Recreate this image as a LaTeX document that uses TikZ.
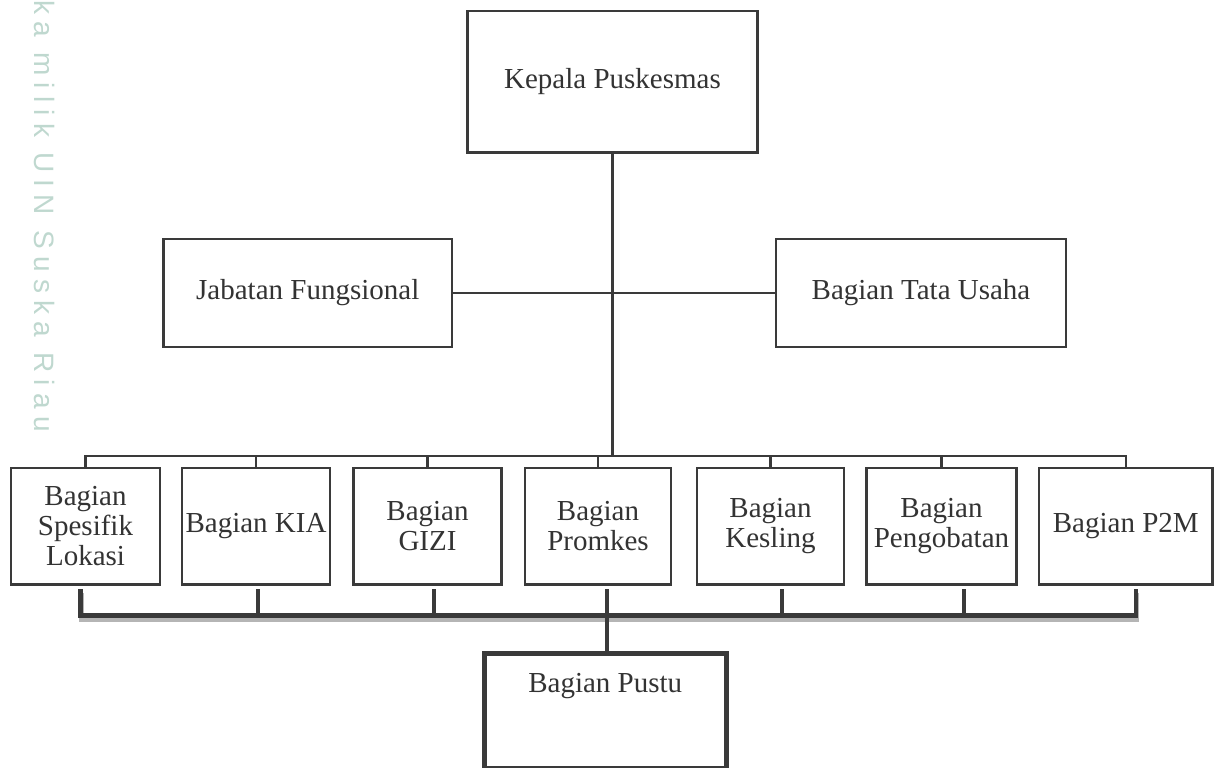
\documentclass[tikz,border=0pt]{standalone}
\usepackage{fontspec}
\setmainfont{Liberation Serif}
\newfontfamily\wmfont[LetterSpace=26]{Liberation Sans}
\definecolor{lncol}{HTML}{3A3A3A}
\definecolor{txcol}{HTML}{333333}
\definecolor{wmcol}{HTML}{BFD8CF}
\definecolor{shdcol}{HTML}{B5B5B5}
\tikzset{
  orgbox/.style={draw=lncol, line width=2.5pt, fill=white, inner sep=0pt, text=txcol,
    align=center, font=\fontsize{29}{30}\selectfont},
  lowbox/.style={orgbox, minimum height=116.5pt},
  lnthin/.style={draw=lncol, line width=2.5pt},
  lnthick/.style={draw=lncol, line width=4.5pt},
}
\begin{document}
\begin{tikzpicture}[x=1pt,y=-1pt]
\useasboundingbox (0,0) rectangle (1216,768);
\fill[white] (0,0) rectangle (1216,768);

% watermark text
\node[rotate=-90, text=wmcol, inner sep=0pt, font=\wmfont\fontsize{28}{28}\selectfont] (wmk) at (45,216) {ka milik UIN Suska Riau};

% nodes
\node[orgbox, minimum width=290pt, minimum height=141.5pt] (kepala) at (612.5,81.75) {Kepala Puskesmas};
\node[orgbox, minimum width=288.5pt, minimum height=108pt] (jab) at (307.75,293) {Jabatan Fungsional};
\node[orgbox, minimum width=290pt, minimum height=108pt] (tata) at (921,293) {Bagian Tata Usaha};

\node[lowbox, minimum width=149pt] (b1) at (85.5,526.25) {Bagian\\Spesifik\\Lokasi};
\node[lowbox, minimum width=148pt] (b2) at (256,526.25) {Bagian KIA};
\node[lowbox, minimum width=148pt] (b3) at (427.5,526.25) {Bagian\\GIZI};
\node[lowbox, minimum width=146pt] (b4) at (598,526.25) {Bagian\\Promkes};
\node[lowbox, minimum width=147pt] (b5) at (770.5,526.25) {Bagian\\Kesling};
\node[lowbox, minimum width=150pt] (b6) at (941.5,526.25) {Bagian\\Pengobatan};
\node[lowbox, minimum width=173.5pt] (b7) at (1125.75,526.25) {Bagian P2M};

\node[orgbox, line width=5pt, minimum width=241.5pt, text height=39.5pt, text depth=75.5pt, anchor=north] (pustu) at (605.25,650.5) {Bagian Pustu};

% thin connectors
\coordinate (bus) at (612.5,456);
\draw[lnthin] (kepala.south) -- (kepala.south |- bus);
\draw[lnthin] (jab.east) -- (tata.west);
\draw[lnthin] (b1.north) |- (bus) -| (b7.north);
\foreach \k in {2,...,6} { \draw[lnthin] (b\k.north) -- (b\k.north |- bus); }

% thick bottom connectors
\coordinate (d1) at ([xshift=-5pt,yshift=-3.5pt]b1.south);
\coordinate (d2) at ([xshift=2pt,yshift=-3.5pt]b2.south);
\coordinate (d3) at ([xshift=6.5pt,yshift=-3.5pt]b3.south);
\coordinate (d4) at ([xshift=9pt,yshift=-3.5pt]b4.south);
\coordinate (d5) at ([xshift=11.5pt,yshift=-3.5pt]b5.south);
\coordinate (d6) at ([xshift=22.5pt,yshift=-3.5pt]b6.south);
\coordinate (d7) at ([xshift=10.25pt,yshift=-3.5pt]b7.south);
\coordinate (tb) at (607,615.5);

\begin{scope}[transform canvas={xshift=1pt,yshift=-4pt}]
  \draw[lnthick, draw=shdcol] (d1) |- (tb) -| (d7);
\end{scope}
\draw[lnthick] (d1) |- (tb) -| (d7);
\foreach \k in {2,...,6} { \draw[lnthick] (d\k) -- (d\k |- tb); }
\draw[lnthick] (d4 |- tb) -- (d4 |- pustu.north);
\end{tikzpicture}
\end{document}
